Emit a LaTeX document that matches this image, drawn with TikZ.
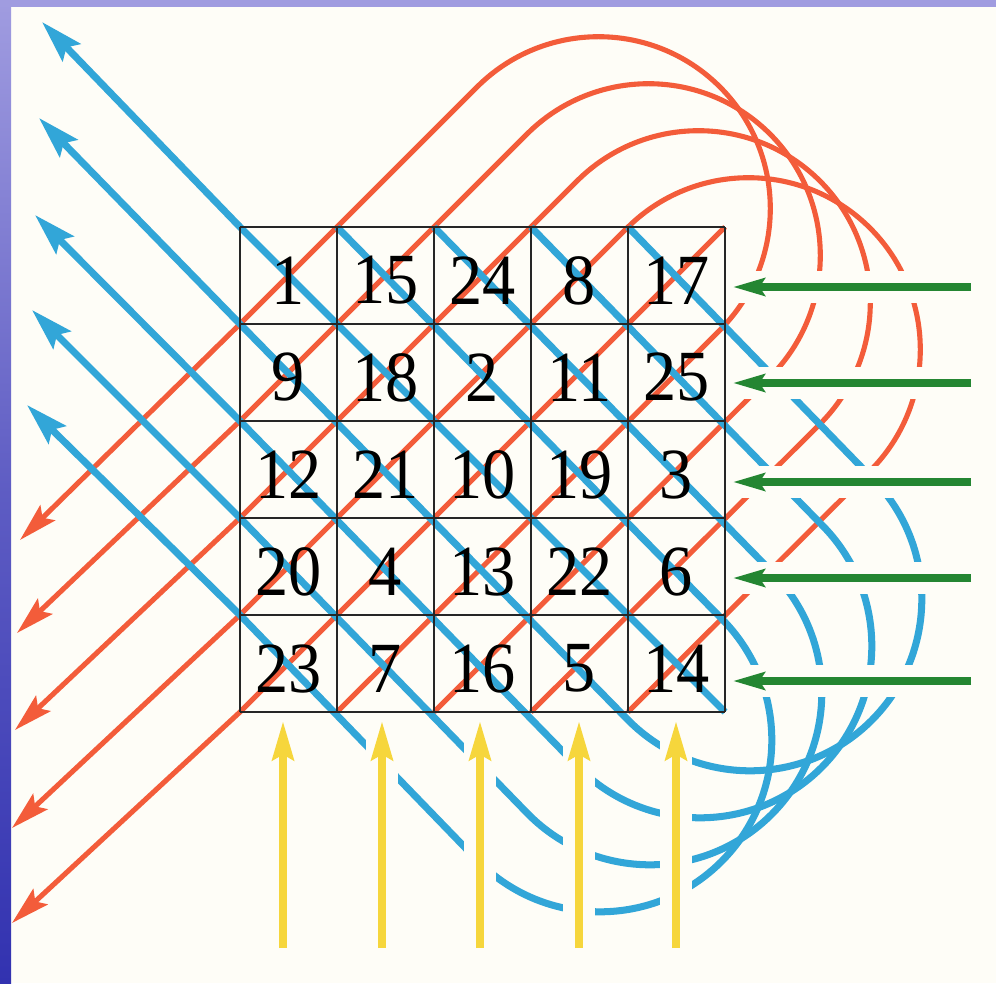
\documentclass[tikz,border=0pt]{standalone}
\usepackage{graphicx}
\usepackage{fontspec}
\newfontfamily\cellserif{Liberation Serif}
\usetikzlibrary{arrows.meta,calc}

\definecolor{redline}{RGB}{243,92,58}
\definecolor{blueline}{RGB}{50,166,216}
\definecolor{arrowgreen}{RGB}{36,134,50}
\definecolor{arrowyellow}{RGB}{246,214,60}
\definecolor{paper}{RGB}{254,253,247}
\definecolor{framelight}{RGB}{160,156,224}
\definecolor{framedark}{RGB}{50,50,176}

\begin{document}
\begin{tikzpicture}[x=0.02cm, y=0.02cm,
    redpath/.style={draw=redline, line width=2.9pt, line join=round},
    bluepath/.style={draw=blueline, line width=4pt, line join=round},
    redtip/.style={-{Stealth[length=22pt,width=12pt,inset=4pt]}},
    bluetip/.style={-{Stealth[length=24pt,width=14pt,inset=4pt]}},
    halo/.style={draw=paper, line width=18pt},
    rowarrow/.style={draw=arrowgreen, line width=5pt, -{Stealth[length=18pt,width=10pt,inset=3pt]}},
    colarrow/.style={draw=arrowyellow, line width=4.6pt, -{Stealth[length=22pt,width=12pt,inset=3pt]}},
    gridline/.style={draw=black!85, line width=1pt},
    cellnum/.style={inner sep=0pt, font=\cellfont}]
    \pgfmathsetmacro{\cell}{97}
    \pgfmathsetmacro{\gx}{240}  % left edge of the square
    \pgfmathsetmacro{\gy}{227}  % top edge of the square
    \pgfmathsetmacro{\gs}{485}
    \pgfmathsetmacro{\rad}{171.8}
    \providecommand{\cellfont}{\cellserif\fontsize{41}{41}\selectfont}
    \fill[paper] (0,0) rectangle (996,-983);
    \shade[top color=framelight, bottom color=framedark, middle color=framedark!60!framelight] (0,0) rectangle (11,-983);
    \fill[framelight] (0,0) rectangle (996,-7);
    \useasboundingbox (0,0) rectangle (996,-983);
    \coordinate (tl) at (\gx,-\gy);
    \coordinate (tr) at (\gx+\gs,-\gy);
    \coordinate (bl) at (\gx,-\gy-\gs);
    \coordinate (br) at (\gx+\gs,-\gy-\gs);
    % broken diagonals going up to the right
    \foreach \k/\tx/\ty in {1/20/540, 2/17/633, 3/15/730, 4/12/828} {
        \coordinate (rc\k) at ({598.5+50*(\k-1)},{-208.5-47*(\k-1)});
        \coordinate (rb\k) at (\gx+\cell*\k,-\gy-\gs);
        \coordinate (rl\k) at (\gx,-\gy-\cell*\k);
        \coordinate (rt\k) at (\tx,-\ty);
        \draw[redpath, redtip] (rb\k) -- ($(rc\k)+(-45:\rad)$) arc[start angle=-45, end angle=135, radius=\rad] -- (rl\k) -- (rt\k);
    }
    \coordinate (rt5) at (12,-923);
    \draw[redpath, redtip] (tr) -- (bl) -- (rt5);
    % broken diagonals going down to the right
    \foreach \k/\tx/\ty in {1/27/405, 2/32/310, 3/35/215, 4/39/118} {
        \coordinate (bc\k) at ({600+50*(\k-1)},{-740+47*(\k-1)});
        \coordinate (bt\k) at (\gx+\cell*\k,-\gy);
        \coordinate (bw\k) at (\gx,-\gy-\gs+\cell*\k);
        \coordinate (bp\k) at (\tx,-\ty);
        \draw[bluepath, bluetip] (bt\k) -- ($(bc\k)+(45:\rad)$) arc[start angle=45, end angle=-135, radius=\rad] -- (bw\k) -- (bp\k);
    }
    \coordinate (bp5) at (42,-22);
    \draw[bluepath, bluetip] (br) -- (tl) -- (bp5);
    % rows and columns
    \foreach \y [count=\i] in {287,383,482,578,681} {
        \coordinate (gs\i) at (971,-\y);
        \coordinate (ge\i) at (733,-\y);
        \draw[halo] (gs\i) -- (ge\i);
        \draw[rowarrow] (gs\i) -- (ge\i);
    }
    \foreach \x [count=\i] in {283,382,480,579,676} {
        \coordinate (ys\i) at (\x,-948);
        \coordinate (ye\i) at (\x,-721);
        \draw[halo] (ys\i) -- (ye\i);
        \draw[colarrow] (ys\i) -- (ye\i);
    }
    \foreach \i in {0,...,5} {
        \draw[gridline] (\gx+\cell*\i,-\gy) -- (\gx+\cell*\i,-\gy-\gs);
        \draw[gridline] (\gx,-\gy-\cell*\i) -- (\gx+\gs,-\gy-\cell*\i);
    }
    \foreach \lab [count=\i from 0] in {1,15,24,8,17,9,18,2,11,25,12,21,10,19,3,20,4,13,22,6,23,7,16,5,14} {
        \pgfmathtruncatemacro{\rr}{floor(\i/5)}
        \pgfmathtruncatemacro{\cc}{\i-5*\rr}
        \node[cellnum] (n\rr\cc) at (\gx+\cell*\cc+\cell/2,-\gy-\cell*\rr-\cell/2-5) {\scalebox{0.92}[1]{\lab}};
    }
\end{tikzpicture}
\end{document}
